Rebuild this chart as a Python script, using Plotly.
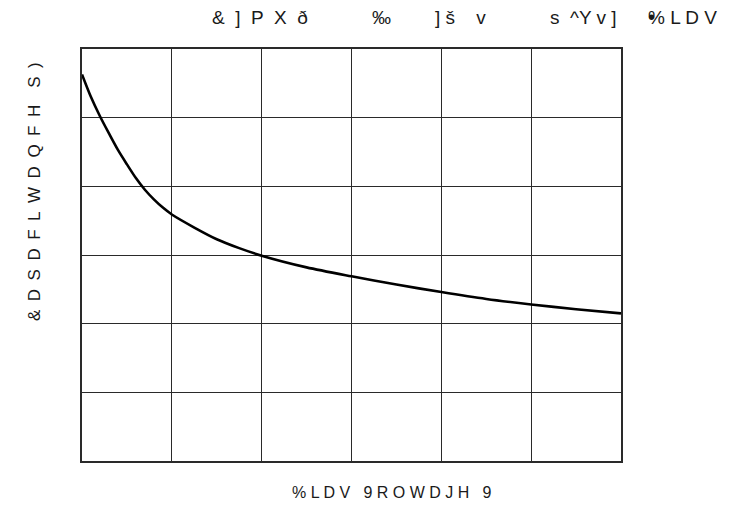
import plotly.graph_objects as go

# data (arbitrary grid units, 6 x 6 divisions, no tick labels)
bias_x = [0.0, 0.1, 0.2, 0.3, 0.4, 0.5, 0.6, 0.7, 0.8, 0.9, 1.0, 1.25, 1.5, 1.75,
          2.0, 2.5, 3.0, 3.5, 4.0, 4.5, 5.0, 5.5, 6.0]
cap_y = [5.63, 5.30, 5.02, 4.77, 4.53, 4.32, 4.12, 3.95, 3.81, 3.69, 3.59, 3.40, 3.23, 3.10,
         2.99, 2.82, 2.69, 2.57, 2.46, 2.36, 2.28, 2.21, 2.15]

# title glyph groups (as rendered in the reference) and their left edges in px
title_groups = ["&  ]  P  X  ð", "‰", "] š    v", "s  ^Y v ]", "% L D V"]
title_left_px = [210, 370, 433, 548, 646]
x_label = "% L D V   9 R O W D J H   9"
EN = "\u2002"
y_label = EN.join(["&", "D", "S", "D", "F", "L", "W", "D", "Q", "F", "H", "", "S", ")"])

PLOT_L, PLOT_R, PLOT_T, PLOT_B = 82, 621, 49, 461
PW = PLOT_R - PLOT_L

fig = go.Figure()
fig.add_trace(go.Scatter(x=bias_x, y=cap_y, mode="lines",
                         line=dict(color="black", width=2.6, shape="spline", smoothing=0.8),
                         showlegend=False, hoverinfo="skip"))

ax = dict(range=[0, 6], dtick=1, tick0=0, showticklabels=False, ticks="",
          showgrid=True, gridcolor="#2a2a2a", gridwidth=1, zeroline=False,
          showline=True, linecolor="#2a2a2a", linewidth=1.5, mirror=True)
fig.update_xaxes(**ax)
fig.update_yaxes(**ax)

font = "Liberation Sans, Arial, sans-serif"
tcol = "#1a1a1a"
ann = []
for g, lp in zip(title_groups, title_left_px):
    ann.append(dict(text=g, xref="paper", yref="paper", x=(lp - PLOT_L) / PW, y=1.0,
                    yshift=PLOT_T - 17, xanchor="left", yanchor="middle", showarrow=False,
                    font=dict(family=font, size=19, color=tcol)))
# the filled dot overlapping the '%' in the title
ann.append(dict(text="•", xref="paper", yref="paper", x=(646 - PLOT_L) / PW, y=1.0,
                yshift=PLOT_T - 17, xanchor="left", yanchor="middle", showarrow=False,
                font=dict(family=font, size=20, color=tcol)))
ann.append(dict(text=x_label, xref="paper", yref="paper", x=(290 - PLOT_L) / PW, y=0,
                yshift=-31, xanchor="left", yanchor="middle", showarrow=False,
                font=dict(family=font, size=16, color=tcol)))
ann.append(dict(text=y_label, xref="paper", yref="paper", x=0, xshift=-47,
                y=(PLOT_B - 192) / (PLOT_B - PLOT_T), xanchor="center", yanchor="middle",
                textangle=-90, showarrow=False, font=dict(family=font, size=17, color=tcol)))

# page body has an 8px margin, so shift margins to land the plot area on the reference
fig.update_layout(
    width=733, height=521,
    margin=dict(l=PLOT_L - 8, r=733 - (PLOT_L - 8) - PW, t=PLOT_T - 8,
                b=521 - (PLOT_T - 8) - (PLOT_B - PLOT_T)),
    plot_bgcolor="white", paper_bgcolor="white",
    annotations=ann,
)
fig.write_html("out.html")
